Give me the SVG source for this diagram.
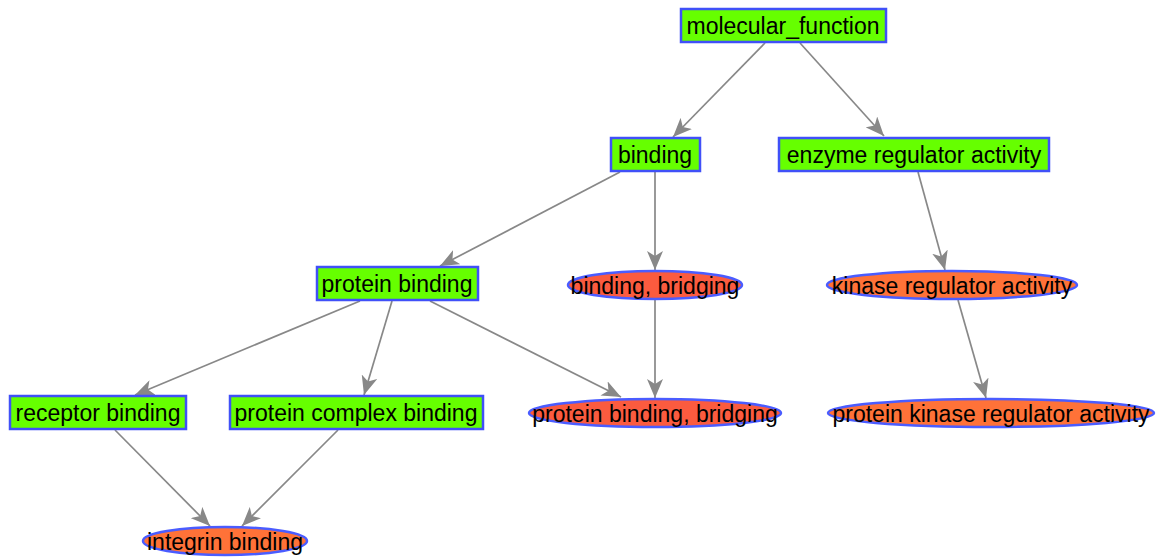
<svg xmlns="http://www.w3.org/2000/svg" width="1159" height="557" viewBox="0 0 1159 557">
  <style>
    .box { fill: #66ff00; stroke: #4050f8; stroke-width: 2.5; }
    .oval { stroke: #4a5cff; stroke-width: 2.5; }
    .red { fill: #fb5b3f; }
    .orange { fill: #ff7238; }
    .label { font-family: "Liberation Sans", Arial, sans-serif; font-size: 23px; fill: #000; text-anchor: middle; }
    .edge { stroke: #888888; stroke-width: 1.7; fill: none; marker-end: url(#arrow); }
  </style>
  <defs>
    <marker id="arrow" markerUnits="userSpaceOnUse" markerWidth="20" markerHeight="16" refX="19" refY="8" orient="auto">
      <path d="M0,0 L19,8 L0,16 L5,8 z" fill="#888888"/>
    </marker>
  </defs>
  <rect width="1159" height="557" fill="#ffffff"/>

  <g id="connectors">
    <line class="edge" x1="765" y1="43" x2="673" y2="137"/>
    <line class="edge" x1="800" y1="43" x2="884" y2="136"/>
    <line class="edge" x1="620" y1="172" x2="440" y2="266"/>
    <line class="edge" x1="655" y1="172" x2="655" y2="270"/>
    <line class="edge" x1="918" y1="172" x2="945" y2="270"/>
    <line class="edge" x1="360" y1="301" x2="135" y2="395"/>
    <line class="edge" x1="392" y1="301" x2="364" y2="395"/>
    <line class="edge" x1="430" y1="301" x2="621" y2="397"/>
    <line class="edge" x1="655" y1="300" x2="655" y2="398"/>
    <line class="edge" x1="958" y1="300" x2="986" y2="398"/>
    <line class="edge" x1="115" y1="430" x2="210" y2="526"/>
    <line class="edge" x1="338" y1="430" x2="242" y2="526"/>
  </g>

  <g id="molecular_function">
    <rect class="box" x="681" y="9" width="205" height="33"/>
    <text class="label" x="783" y="34">molecular_function</text>
  </g>
  <g id="binding">
    <rect class="box" x="611" y="138" width="89" height="33"/>
    <text class="label" x="655" y="163">binding</text>
  </g>
  <g id="enzyme_regulator_activity">
    <rect class="box" x="779" y="138" width="270" height="33"/>
    <text class="label" x="914" y="163">enzyme regulator activity</text>
  </g>
  <g id="protein_binding">
    <rect class="box" x="317" y="267" width="161" height="33"/>
    <text class="label" x="397" y="292">protein binding</text>
  </g>
  <g id="binding_bridging">
    <ellipse class="oval red" cx="655" cy="285" rx="87" ry="14"/>
    <text class="label" x="655" y="294">binding, bridging</text>
  </g>
  <g id="kinase_regulator_activity">
    <ellipse class="oval orange" cx="952" cy="285" rx="125" ry="14"/>
    <text class="label" x="952" y="294">kinase regulator activity</text>
  </g>
  <g id="receptor_binding">
    <rect class="box" x="10" y="396" width="176" height="33"/>
    <text class="label" x="98" y="421">receptor binding</text>
  </g>
  <g id="protein_complex_binding">
    <rect class="box" x="230" y="396" width="253" height="33"/>
    <text class="label" x="356" y="421">protein complex binding</text>
  </g>
  <g id="protein_binding_bridging">
    <ellipse class="oval red" cx="655" cy="413" rx="126" ry="14"/>
    <text class="label" x="655" y="422">protein binding, bridging</text>
  </g>
  <g id="protein_kinase_regulator_activity">
    <ellipse class="oval orange" cx="991" cy="413" rx="163" ry="14"/>
    <text class="label" x="991" y="422">protein kinase regulator activity</text>
  </g>
  <g id="integrin_binding">
    <ellipse class="oval orange" cx="225" cy="541" rx="82" ry="14"/>
    <text class="label" x="225" y="550">integrin binding</text>
  </g>
</svg>
